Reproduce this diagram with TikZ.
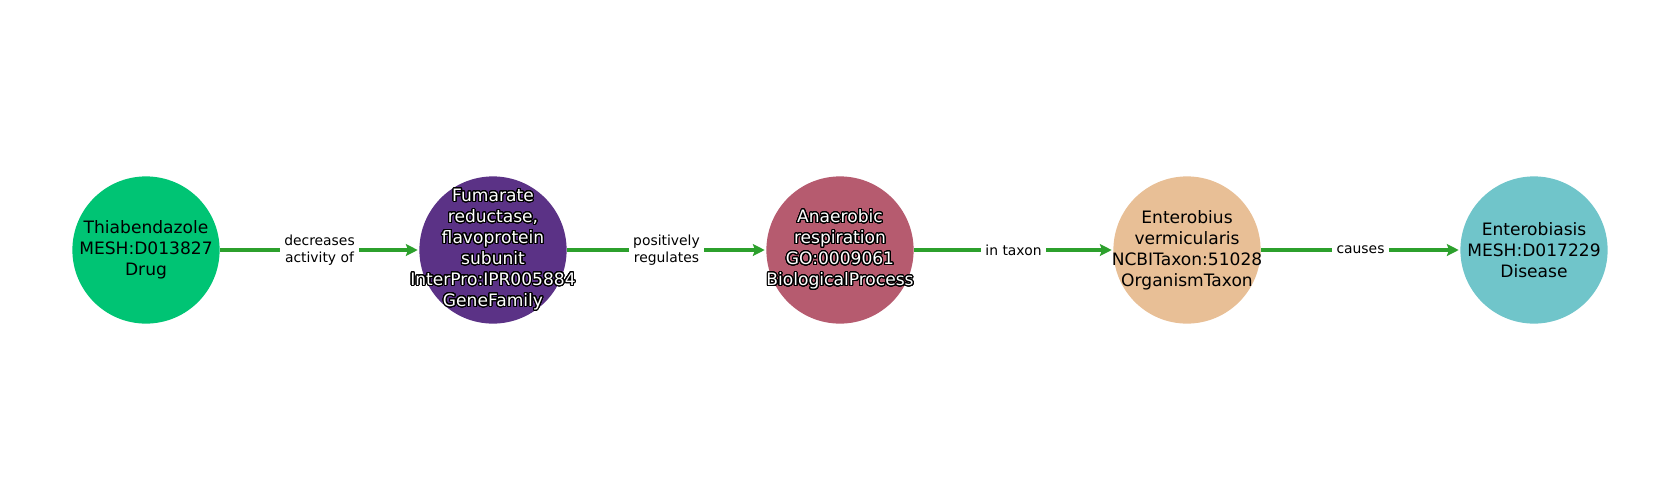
\documentclass[tikz,border=0pt]{standalone}
\usepackage{fontspec}
\setmainfont{DejaVu Sans}
\usepackage{contour}
\contourlength{0.8pt}
\contournumber{32}
\usetikzlibrary{arrows.meta}
\definecolor{cdrug}{RGB}{0,196,116}
\definecolor{cgene}{RGB}{91,50,134}
\definecolor{cproc}{RGB}{182,91,111}
\definecolor{ctaxon}{RGB}{232,191,150}
\definecolor{cdis}{RGB}{112,197,202}
\definecolor{cedge}{RGB}{44,160,44}
\newcommand{\wl}[1]{\contour{black}{#1}}
\tikzset{
  entity/.style={circle, minimum size=106pt, inner sep=0pt, draw=none},
  entitytext/.style={align=center, inner sep=0pt, font=\fontsize{12.3}{15.1}\selectfont},
  rel/.style={line width=2.2pt, draw=cedge, -{Stealth[length=8.5pt,width=8.5pt,inset=1.5pt]}, shorten >=1pt},
  rellabel/.style={fill=white, inner sep=3pt, align=center, text=black, font=\fontsize{10}{11.8}\selectfont},
}
\begin{document}
\begin{tikzpicture}[x=0.72pt,y=-0.72pt]
\useasboundingbox (0,0) rectangle (1680,500);
\node[entity, fill=cdrug] (n1) at (146,250) {};
\node[entity, fill=cgene] (n2) at (493,250) {};
\node[entity, fill=cproc] (n3) at (840,250) {};
\node[entity, fill=ctaxon] (n4) at (1187,250) {};
\node[entity, fill=cdis] (n5) at (1534,250) {};
\node[entitytext, text=black] (t1) at (n1.center) {Thiabendazole\\MESH:D013827\\Drug};
\node[entitytext, text=white] (t2) at (n2.center) {\wl{Fumarate}\\\wl{reductase,}\\\wl{flavoprotein}\\\wl{subunit}\\\wl{InterPro:IPR005884}\\\wl{GeneFamily}};
\node[entitytext, text=white] (t3) at (n3.center) {\wl{Anaerobic}\\\wl{respiration}\\\wl{GO:0009061}\\\wl{BiologicalProcess}};
\node[entitytext, text=black] (t4) at (n4.center) {Enterobius\\vermicularis\\NCBITaxon:51028\\OrganismTaxon};
\node[entitytext, text=black] (t5) at (n5.center) {Enterobiasis\\MESH:D017229\\Disease};
\draw[rel] (n1) -- node[rellabel] {decreases\\activity of} (n2);
\draw[rel] (n2) -- node[rellabel] {positively\\regulates} (n3);
\draw[rel] (n3) -- node[rellabel] {in taxon} (n4);
\draw[rel] (n4) -- node[rellabel] {causes} (n5);
\end{tikzpicture}
\end{document}
